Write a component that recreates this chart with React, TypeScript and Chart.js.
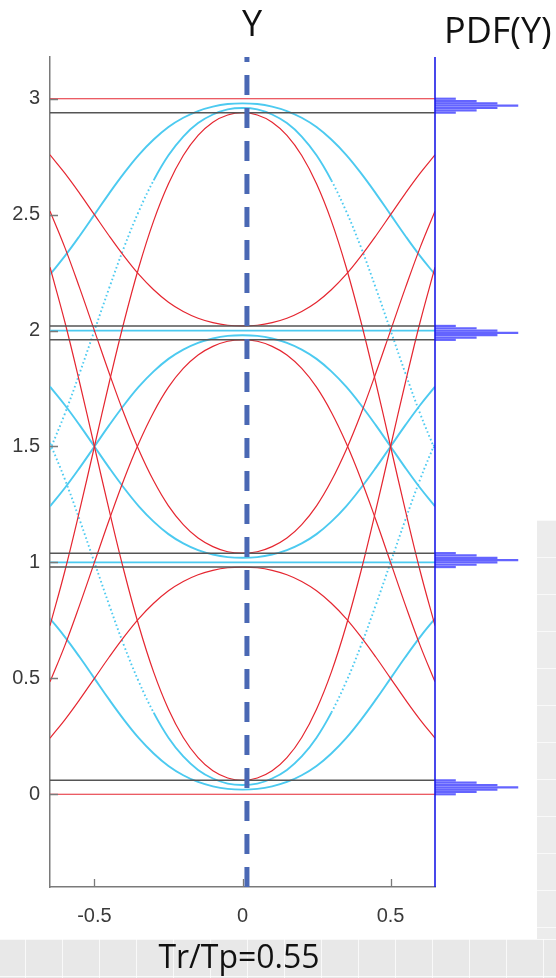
import { useEffect, useRef } from "react";
import { Chart, registerables } from "chart.js";

Chart.register(...registerables);

// Time offsets from the sampling instant (one half of the symbol window; the other half mirrors it)
const sampleOffsets = [0, 0.05, 0.1, 0.15, 0.2, 0.25, 0.3, 0.35, 0.4, 0.45, 0.5, 0.55, 0.6, 0.65];

// Traces "neighbours u / symbol v" for the 4-level signal (u, v, u)
const nb0sym0 = [0, 0, 0, 0, 0, 0, 0, 0, 0, 0, 0, 0, 0, 0];
const nb0sym1 = [0.98, 0.977, 0.966, 0.947, 0.918, 0.878, 0.824, 0.758, 0.679, 0.592, 0.5, 0.408, 0.321, 0.242];
const nb0sym2 = [1.96, 1.954, 1.932, 1.895, 1.837, 1.756, 1.648, 1.515, 1.359, 1.184, 1.0, 0.816, 0.641, 0.485];
const nb0sym3 = [2.94, 2.93, 2.899, 2.842, 2.755, 2.633, 2.473, 2.273, 2.038, 1.776, 1.5, 1.224, 0.962, 0.727];

const nb3sym0 = [0.06, 0.07, 0.101, 0.158, 0.245, 0.367, 0.527, 0.727, 0.962, 1.224, 1.5, 1.776, 2.038, 2.273];
const nb3sym1 = [1.04, 1.046, 1.068, 1.105, 1.163, 1.244, 1.352, 1.485, 1.641, 1.816, 2.0, 2.184, 2.359, 2.515];
const nb3sym2 = [2.02, 2.023, 2.034, 2.053, 2.082, 2.122, 2.176, 2.242, 2.321, 2.408, 2.5, 2.592, 2.679, 2.758];
const nb3sym3 = [3, 3, 3, 3, 3, 3, 3, 3, 3, 3, 3, 3, 3, 3];

const nb1sym0 = [0.02, 0.023, 0.034, 0.053, 0.082, 0.122, 0.176, 0.242, 0.321, 0.408, 0.5, 0.592, 0.679, 0.758];
const nb1sym1 = [1, 1, 1, 1, 1, 1, 1, 1, 1, 1, 1, 1, 1, 1];
const nb1sym2 = [1.98, 1.977, 1.966, 1.947, 1.918, 1.878, 1.824, 1.758, 1.679, 1.592, 1.5, 1.408, 1.321, 1.242];
const nb1sym3 = [2.96, 2.954, 2.932, 2.895, 2.837, 2.756, 2.648, 2.515, 2.359, 2.184, 2.0, 1.816, 1.641, 1.485];

const nb2sym0 = [0.04, 0.046, 0.068, 0.105, 0.163, 0.244, 0.352, 0.485, 0.641, 0.816, 1.0, 1.184, 1.359, 1.515];
const nb2sym1 = [1.02, 1.023, 1.034, 1.053, 1.082, 1.122, 1.176, 1.242, 1.321, 1.408, 1.5, 1.592, 1.679, 1.758];
const nb2sym2 = [2, 2, 2, 2, 2, 2, 2, 2, 2, 2, 2, 2, 2, 2];
const nb2sym3 = [2.98, 2.977, 2.966, 2.947, 2.918, 2.878, 2.824, 2.758, 2.679, 2.592, 2.5, 2.408, 2.321, 2.242];

// Worst-case level bounds at the sampling instant
const eyeBounds = [0.06, 0.98, 1.04, 1.96, 2.02, 2.94];

// PDF(Y): relative counts of the sampled values around each level
const pdfCounts = [1, 2, 3, 4, 3, 2, 1];
const pdfLevel0 = [0.0, 0.01, 0.02, 0.03, 0.04, 0.05, 0.06];
const pdfLevel1 = [0.98, 0.99, 1.0, 1.01, 1.02, 1.03, 1.04];
const pdfLevel2 = [1.96, 1.97, 1.98, 1.99, 2.0, 2.01, 2.02];
const pdfLevel3 = [2.94, 2.95, 2.96, 2.97, 2.98, 2.99, 3.0];

const xTickValues = [-0.5, 0, 0.5];
const yTickValues = [0, 0.5, 1, 1.5, 2, 2.5, 3];
const xLimits = [-0.65, 0.65];
const yLimits = [-0.4, 3.18];
const samplingInstant = 0.015;
const pdfAxisSpan = 18.5;

const CYAN = "#4ccaf0";
const RED = "#e52630";
const BOUND = "#555555";
const AXIS = "#7a7a7a";
const PDF_BLUE = "rgba(40, 40, 255, 0.72)";

type Pt = { x: number; y: number };

function mirrored(values: number[]): Pt[] {
  const left = sampleOffsets
    .slice(1)
    .map((o, i) => ({ x: -o, y: values[i + 1] }))
    .reverse();
  const right = sampleOffsets.map((o, i) => ({ x: o, y: values[i] }));
  return [...left, ...right];
}

const redTraces = [nb0sym0, nb0sym1, nb0sym2, nb0sym3, nb3sym0, nb3sym1, nb3sym2, nb3sym3];
const cyanTraces = [nb1sym0, nb1sym1, nb1sym2, nb1sym3, nb2sym0, nb2sym1, nb2sym2, nb2sym3];

const inwardTicks = {
  id: "inwardTicks",
  afterDatasetsDraw(chart: any) {
    const { ctx, chartArea, scales } = chart;
    ctx.save();
    ctx.strokeStyle = AXIS;
    ctx.lineWidth = 1.3;
    ctx.beginPath();
    scales.x.ticks.forEach((t: any) => {
      const px = Math.round(scales.x.getPixelForValue(t.value)) + 0.5;
      ctx.moveTo(px, chartArea.bottom);
      ctx.lineTo(px, chartArea.bottom - 8);
    });
    scales.y.ticks.forEach((t: any) => {
      const py = Math.round(scales.y.getPixelForValue(t.value)) + 0.5;
      ctx.moveTo(chartArea.left, py);
      ctx.lineTo(chartArea.left + 8, py);
    });
    ctx.stroke();
    ctx.restore();
  },
};

export default function App() {
  const canvasRef = useRef<HTMLCanvasElement | null>(null);

  useEffect(() => {
    if (!canvasRef.current) return;
    const datasets: any[] = [];

    // sampling-instant marker (on top)
    datasets.push({
      data: [
        { x: samplingInstant, y: yLimits[0] },
        { x: samplingInstant, y: yLimits[1] },
      ],
      borderColor: "#4a68b4",
      borderWidth: 5,
      borderDash: [20, 13],
      pointRadius: 0,
      clip: false,
    });

    // PDF axis
    datasets.push({
      data: [
        { x: xLimits[1], y: yLimits[0] },
        { x: xLimits[1], y: yLimits[1] },
      ],
      borderColor: "#1a1ae6",
      borderWidth: 1.6,
      pointRadius: 0,
      clip: false,
    });

    // PDF histograms
    [pdfLevel0, pdfLevel1, pdfLevel2, pdfLevel3].forEach((bins) => {
      bins.forEach((yv, i) => {
        datasets.push({
          xAxisID: "xh",
          data: [
            { x: 0, y: yv },
            { x: pdfCounts[i], y: yv },
          ],
          borderColor: PDF_BLUE,
          borderWidth: 2.2,
          borderCapStyle: "butt",
          pointRadius: 0,
          clip: false,
        });
      });
    });

    // level bounds
    eyeBounds.forEach((b) => {
      datasets.push({
        data: [
          { x: xLimits[0], y: b },
          { x: xLimits[1], y: b },
        ],
        borderColor: BOUND,
        borderWidth: 1.5,
        pointRadius: 0,
      });
    });

    redTraces.forEach((vals) => {
      datasets.push({
        data: mirrored(vals),
        borderColor: RED,
        borderWidth: 1.2,
        pointRadius: 0,
        tension: 0.4,
      });
    });

    cyanTraces.forEach((vals) => {
      datasets.push({
        data: mirrored(vals),
        borderColor: CYAN,
        borderWidth: 1.9,
        pointRadius: 0,
        tension: 0.4,
        segment: {
          borderDash: (c: any) => {
            const dy = Math.abs(c.p1.parsed.y - c.p0.parsed.y);
            const dx = Math.abs(c.p1.parsed.x - c.p0.parsed.x);
            return dy / dx > 2.6 ? [1.6, 2.6] : undefined;
          },
        },
      });
    });

    const tickFont = { family: "'Liberation Sans', Arial, sans-serif", size: 20 };

    const chart = new Chart(canvasRef.current, {
      type: "line",
      data: { datasets },
      options: {
        animation: false,
        responsive: false,
        events: [],
        parsing: false,
        layout: { padding: { left: 0, right: 121, top: 57, bottom: 51 } },
        plugins: { legend: { display: false }, tooltip: { enabled: false } },
        scales: {
          x: {
            type: "linear",
            min: xLimits[0],
            max: xLimits[1],
            grid: { display: false, drawTicks: false },
            border: { display: true, color: AXIS, width: 1.5 },
            ticks: {
              font: tickFont,
              color: "#3a3a3a",
              padding: 17,
              maxRotation: 0,
              callback: (v: any) => String(v),
            },
            afterBuildTicks: (s: any) => {
              s.ticks = xTickValues.map((v) => ({ value: v }));
            },
            afterFit: (s: any) => {
              s.height = 40;
            },
          },
          xh: {
            type: "linear",
            display: false,
            min: -pdfAxisSpan,
            max: 0,
          },
          y: {
            type: "linear",
            min: yLimits[0],
            max: yLimits[1],
            grid: { display: false, drawTicks: false },
            border: { display: true, color: AXIS, width: 1.5 },
            ticks: {
              font: tickFont,
              color: "#3a3a3a",
              padding: 10,
              callback: (v: any) => String(v),
            },
            afterBuildTicks: (s: any) => {
              s.ticks = yTickValues.map((v) => ({ value: v }));
            },
            afterFit: (s: any) => {
              s.width = 50;
            },
          },
        },
      } as any,
      plugins: [inwardTicks],
    });
    return () => chart.destroy();
  }, []);

  const labelFont = "'Open Sans', 'Noto Sans', sans-serif";

  return (
    <div
      style={{
        position: "fixed",
        left: 0,
        top: 0,
        width: 556,
        height: 978,
        background: "#ffffff",
        overflow: "hidden",
      }}
    >
      <div
        style={{
          position: "absolute",
          left: 537,
          top: 520,
          width: 19,
          height: 458,
          backgroundColor: "#ececec",
          backgroundImage:
            "linear-gradient(rgba(255,255,255,0.7) 1px, transparent 1px)",
          backgroundSize: "37px 37px",
        }}
      />
      <div
        style={{
          position: "absolute",
          left: 0,
          top: 939,
          width: 556,
          height: 39,
          backgroundColor: "#e8e8e8",
          backgroundImage:
            "linear-gradient(90deg, rgba(255,255,255,0.75) 1px, transparent 1px), linear-gradient(rgba(255,255,255,0.75) 1px, transparent 1px)",
          backgroundSize: "37px 37px",
          backgroundPosition: "25px 0px",
        }}
      />
      <canvas
        ref={canvasRef}
        width={556}
        height={978}
        style={{ position: "absolute", left: 0, top: 0 }}
      />
      <div
        style={{
          position: "absolute",
          left: 232,
          top: 5,
          width: 40,
          textAlign: "center",
          fontFamily: labelFont,
          fontSize: 36,
          lineHeight: "36px",
          color: "#111",
        }}
      >
        Y
      </div>
      <div
        style={{
          position: "absolute",
          left: 444,
          top: 12,
          fontFamily: labelFont,
          fontSize: 36,
          lineHeight: "36px",
          color: "#111",
          whiteSpace: "nowrap",
        }}
      >
        PDF(Y)
      </div>
      <div
        style={{
          position: "absolute",
          left: 139,
          top: 940,
          width: 200,
          textAlign: "center",
          fontFamily: labelFont,
          fontSize: 32,
          lineHeight: "32px",
          color: "#111",
          whiteSpace: "nowrap",
        }}
      >
        Tr/Tp=0.55
      </div>
    </div>
  );
}
